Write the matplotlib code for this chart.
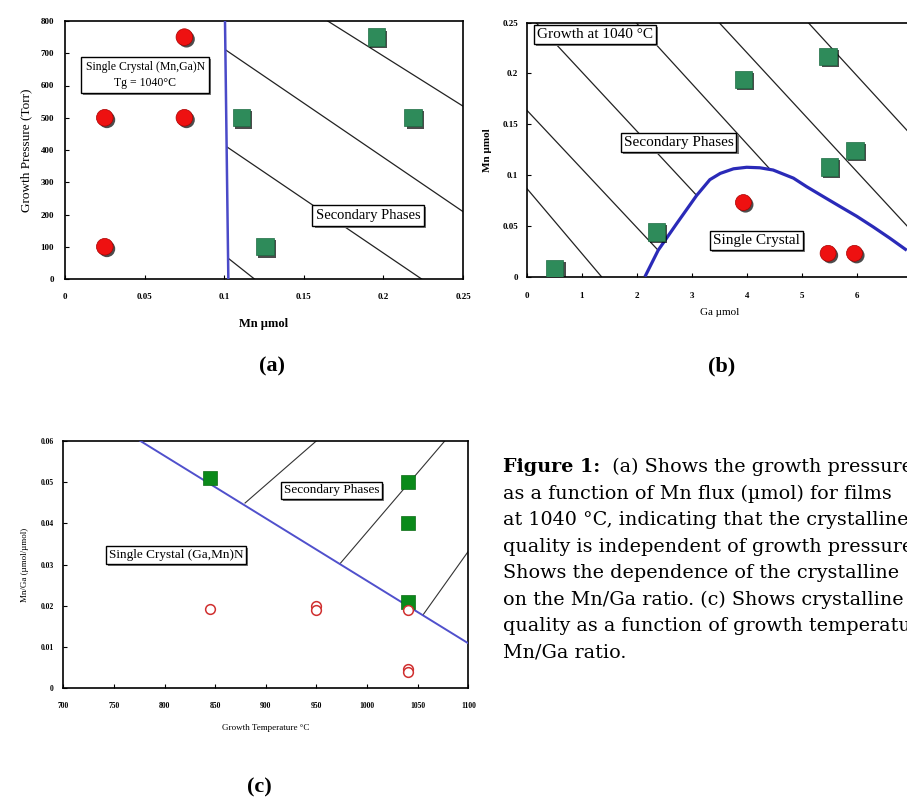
import matplotlib
matplotlib.use('Agg')
import matplotlib.pyplot as plt
import matplotlib.patheffects as pe
from matplotlib.text import Annotation

# ---- panel (a): growth pressure vs Mn flux ----
a_ss_x = [0.025, 0.025, 0.075, 0.075]
a_ss_y = [500, 100, 750, 500]
a_sp_x = [0.111, 0.1256, 0.1958, 0.2187]
a_sp_y = [500, 100, 750, 500]
a_border_x = [0.1005, 0.1026]
a_border_y = [800, 0]
a_hatch_x = [[0.101, 0.25], [0.165, 0.25], [0.1016, 0.224], [0.1026, 0.119]]
a_hatch_y = [[710, 209], [800, 536], [410, 0], [64, 0]]
a_xticks = [0, 0.05, 0.1, 0.15, 0.2, 0.25]
a_xlabels = ['0', '0.05', '0.1', '0.15', '0.2', '0.25']
a_yticks = [0, 100, 200, 300, 400, 500, 600, 700, 800]

# ---- panel (b): Mn vs Ga at 1040 C ----
b_ss_x = [3.94, 5.48, 5.96]
b_ss_y = [0.073, 0.023, 0.023]
b_sp_x = [0.51, 2.36, 3.94, 5.48, 5.50, 5.97]
b_sp_y = [0.008, 0.044, 0.194, 0.2165, 0.108, 0.124]
b_curve_x = [2.15, 2.39, 2.73, 3.09, 3.33, 3.52, 3.76, 4.00, 4.24, 4.48, 4.85,
             5.09, 5.45, 5.70, 6.00, 6.30, 6.60, 6.91]
b_curve_y = [0.0, 0.026, 0.0525, 0.080, 0.0955, 0.1017, 0.1062, 0.1077, 0.1072,
             0.105, 0.097, 0.0886, 0.077, 0.069, 0.0595, 0.049, 0.038, 0.026]
b_hatch_x = [[0, 1.36], [0, 2.39], [0.17, 3.09], [1.99, 4.42], [3.50, 7.0], [5.12, 7.0]]
b_hatch_y = [[0.087, 0], [0.164, 0.026], [0.25, 0.080], [0.25, 0.106], [0.25, 0.045], [0.25, 0.139]]
b_xticks = [0, 1, 2, 3, 4, 5, 6]
b_yticks = [0, 0.05, 0.1, 0.15, 0.2, 0.25]
b_ylabels = ['0', '0.05', '0.1', '0.15', '0.2', '0.25']

# ---- panel (c): Mn/Ga vs growth temperature ----
c_ss_x = [845, 950, 950, 1040, 1040, 1040]
c_ss_y = [0.0192, 0.0199, 0.0190, 0.0190, 0.0046, 0.0040]
c_sp_x = [845, 1040, 1040, 1040]
c_sp_y = [0.0509, 0.0500, 0.0400, 0.0210]
c_border_x = [775.7, 1100]
c_border_y = [0.06, 0.0109]
c_hatch_x = [[879.5, 950.2], [973.3, 1077], [1055.6, 1100]]
c_hatch_y = [[0.0449, 0.06], [0.0302, 0.06], [0.0179, 0.0332]]
c_xticks = [700, 750, 800, 850, 900, 950, 1000, 1050, 1100]
c_yticks = [0, 0.01, 0.02, 0.03, 0.04, 0.05, 0.06]
c_ylabels = ['0', '0.01', '0.02', '0.03', '0.04', '0.05', '0.06']

caption_head = "Figure 1:"
caption_first = "  (a) Shows the growth pressure"
caption = [
    "as a function of Mn flux (\u00b5mol) for films",
    "at 1040 \u00b0C, indicating that the crystalline",
    "quality is independent of growth pressure",
    "Shows the dependence of the crystalline",
    "on the Mn/Ga ratio. (c) Shows crystalline",
    "quality as a function of growth temperature",
    "Mn/Ga ratio.",
]

plt.rcParams['font.family'] = ['Liberation Serif', 'DejaVu Serif']

W, H = 907, 801
fig = plt.figure(figsize=(W / 100, H / 100), dpi=100)

shadow = [pe.SimplePatchShadow(offset=(1.5, -1.5), shadow_rgbFace='black', alpha=0.7), pe.Normal()]
box_fx = [pe.SimplePatchShadow(offset=(1.5, -1.5), shadow_rgbFace='#777777', alpha=1.0), pe.Normal()]


def px_axes(left, top, right, bottom):
    return fig.add_axes([left / W, 1 - bottom / H, (right - left) / W, (bottom - top) / H])


def style(ax, fs):
    ax.tick_params(direction='in', length=3, width=0.8, labelsize=fs)
    for lab in ax.get_xticklabels() + ax.get_yticklabels():
        lab.set_fontweight('bold')
    for s in ax.spines.values():
        s.set_linewidth(1.2)


def boxtext(ax, x, y, s, fs, pad=0.3, lw=1.0):
    t = ax.text(x, y, s, fontsize=fs, ha='center', va='center', zorder=6,
                linespacing=1.4,
                bbox=dict(boxstyle='square,pad=%g' % pad, fc='white', ec='black', lw=lw))
    t.get_bbox_patch().set_path_effects(box_fx)
    return t


# (a)
ax = px_axes(65, 21, 463, 279)
for hx, hy in zip(a_hatch_x, a_hatch_y):
    ax.plot(hx, hy, color='#222222', lw=0.9, zorder=2)
ax.plot(a_border_x, a_border_y, color='#4a4ac8', lw=1.8, zorder=3)
ax.plot(a_ss_x, a_ss_y, 'o', ms=12, color='#ee1111', mec='#aa0000', mew=0.5,
        zorder=5, path_effects=shadow)
ax.plot(a_sp_x, a_sp_y, 's', ms=12.5, color='#2e8b5a', mec='#1d6b42', mew=0.5,
        zorder=5, path_effects=shadow)
boxtext(ax, 0.0503, 633, "Single Crystal (Mn,Ga)N\nTg = 1040\u00b0C", 8.5, pad=0.35)
boxtext(ax, 0.1906, 197, "Secondary Phases", 10.5, pad=0.25)
ax.set_xlim(0, 0.25)
ax.set_ylim(0, 800)
ax.set_xticks(a_xticks, a_xlabels)
ax.set_yticks(a_yticks)
ax.tick_params(axis='x', pad=10)
ax.tick_params(axis='y', pad=8)
style(ax, 6.5)
ax.set_xlabel("Mn \u00b5mol", fontsize=9, fontweight='bold', labelpad=12)
ax.set_ylabel("Growth Pressure (Torr)", fontsize=9.5, labelpad=6)

# (b)
ax = px_axes(526.7, 22.7, 911.7, 276.7)
for hx, hy in zip(b_hatch_x, b_hatch_y):
    ax.plot(hx, hy, color='#222222', lw=0.9, zorder=2)
ax.plot(b_curve_x, b_curve_y, color='#2a2ab8', lw=2.3, zorder=3,
        solid_capstyle='butt', solid_joinstyle='round')
ax.plot(b_ss_x, b_ss_y, 'o', ms=11.5, color='#ee1111', mec='#aa0000', mew=0.5,
        zorder=5, path_effects=shadow)
ax.plot(b_sp_x, b_sp_y, 's', ms=12.5, color='#2e8b5a', mec='#1d6b42', mew=0.5,
        zorder=5, path_effects=shadow)
boxtext(ax, 1.24, 0.2387, "Growth at 1040 \u00b0C", 11, pad=0.2)
boxtext(ax, 2.76, 0.132, "Secondary Phases", 11, pad=0.2)
boxtext(ax, 4.18, 0.0353, "Single Crystal", 11, pad=0.2)
ax.set_xlim(0, 7)
ax.set_ylim(0, 0.25)
ax.set_xticks(b_xticks)
ax.set_yticks(b_yticks, b_ylabels)
ax.tick_params(axis='x', pad=11)
ax.tick_params(axis='y', pad=6)
style(ax, 6.5)
ax.set_xlabel("Ga \u00b5mol", fontsize=8, labelpad=6)
ax.set_ylabel("Mn \u00b5mol", fontsize=8, fontweight='bold', labelpad=8)

# (c)
ax = px_axes(63.3, 440.7, 468.3, 688.3)
for hx, hy in zip(c_hatch_x, c_hatch_y):
    ax.plot(hx, hy, color='#333333', lw=0.8, zorder=2)
ax.plot(c_border_x, c_border_y, color='#5050cc', lw=1.4, zorder=3)
ax.plot(c_sp_x, c_sp_y, 's', ms=9.5, color='#0a8a1a', mec='#0a6a14', mew=0.5, zorder=4)
ax.plot(c_ss_x, c_ss_y, 'o', ms=7, mfc='white', mec='#d03030', mew=1.1, zorder=5)
boxtext(ax, 964.7, 0.048, "Secondary Phases", 9.5, pad=0.2)
boxtext(ax, 811.1, 0.0323, "Single Crystal (Ga,Mn)N", 9.5, pad=0.2)
ax.set_xlim(700, 1100)
ax.set_ylim(0, 0.06)
ax.set_xticks(c_xticks)
ax.set_yticks(c_yticks, c_ylabels)
ax.tick_params(axis='x', pad=10)
ax.tick_params(axis='y', pad=7)
style(ax, 5.5)
ax.set_xlabel("Growth Temperature \u00b0C", fontsize=6.5, labelpad=10)
ax.set_ylabel("Mn/Ga (\u00b5mol/\u00b5mol)", fontsize=6.5, labelpad=8)

# panel letters
for lab, x, y in [("(a)", 272, 366), ("(b)", 722, 366), ("(c)", 259, 787)]:
    fig.text(x / W, 1 - y / H, lab, fontsize=16, fontweight='bold', ha='center', va='center')

# caption
cap_font = ['DejaVu Serif']
cap_size = 13.8
y0, dy = 467, 26.5
head = fig.text(503 / W, 1 - y0 / H, caption_head, fontsize=cap_size, fontweight='bold',
                va='center', family=cap_font)
fig.add_artist(Annotation(caption_first, xy=(1, 0.5), xycoords=head, va='center',
                          ha='left', fontsize=cap_size, family=cap_font,
                          annotation_clip=False))
for i, line in enumerate(caption):
    fig.text(503 / W, 1 - (y0 + dy * (i + 1)) / H, line, fontsize=cap_size, va='center',
             family=cap_font)

fig.savefig('out.png', dpi=100)
